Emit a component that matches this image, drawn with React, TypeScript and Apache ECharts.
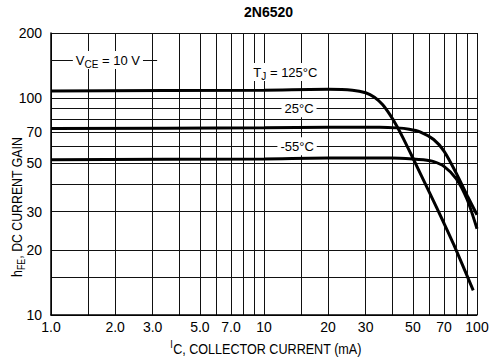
import React, { useEffect, useRef } from 'react';
import * as echarts from 'echarts';

const FONT = "'Liberation Sans Narrow', 'Liberation Sans', Arial, sans-serif";

// Axis grid / label values
const xGridValues = [1, 1.5, 2, 3, 4, 5, 6, 7, 8, 9, 10, 15, 20, 30, 40, 50, 60, 70, 80, 90, 100];
const xLabelValues = [1, 2, 3, 5, 7, 10, 20, 30, 50, 70, 100];
const yGridValues = [10, 15, 20, 30, 40, 50, 60, 70, 80, 90, 100, 200];
const yLabelValues = [10, 20, 30, 50, 70, 100, 200];

// TJ = 125 °C
const current125 = [1, 10, 20, 26, 30, 33, 36, 39, 42, 45, 50, 60, 70, 78, 96];
const gain125 = [108, 109, 110, 109, 106, 101, 93.5, 84, 74.5, 65.5, 53, 36.5, 26.5, 21, 13];

// TJ = 25 °C
const current25 = [1, 10, 20, 35, 42, 48, 54, 62.6, 70, 80, 90, 100];
const gain25 = [72.5, 73, 73.5, 73.5, 73, 72, 70, 64.5, 57, 45, 35.5, 29];

// TJ = -55 °C
const currentM55 = [1, 10, 20, 40, 50, 56, 62.6, 70, 80, 90, 100];
const gainM55 = [52, 52.5, 53, 53, 52.5, 52, 51, 48.5, 42.5, 34, 25];

const richTitle = {
  n: { fontFamily: FONT, fontSize: 14, color: '#000', lineHeight: 19, verticalAlign: 'middle' },
  s: { fontFamily: FONT, fontSize: 10, color: '#000', lineHeight: 10, verticalAlign: 'bottom' },
  u: { fontFamily: FONT, fontSize: 10, color: '#000', lineHeight: 10, verticalAlign: 'top' },
};

const richLabel = {
  n: { fontFamily: FONT, fontSize: 13, color: '#000', lineHeight: 18, verticalAlign: 'middle' },
  s: { fontFamily: FONT, fontSize: 10, color: '#000', lineHeight: 10, verticalAlign: 'bottom' },
};

function pairs(xs: number[], ys: number[]) {
  return xs.map((x, i) => [x, ys[i]]);
}

function labelPoint(text: string, coord: number[]) {
  return {
    coord,
    symbol: 'circle',
    symbolSize: 0,
    itemStyle: { color: 'transparent' },
    label: {
      show: true,
      position: 'inside',
      formatter: text,
      backgroundColor: '#fff',
      padding: [0, 3],
      rich: richLabel,
    },
  };
}

export default function App() {
  const ref = useRef<HTMLDivElement>(null);
  useEffect(() => {
    const chart = echarts.init(ref.current!, null, { renderer: 'svg' });
    const lineStyle = { color: '#000', width: 3 };
    const curve = {
      type: 'line',
      showSymbol: false,
      smooth: 0.25,
      lineStyle,
      silent: true,
      z: 5,
    };
    const option: any = {
      animation: false,
      backgroundColor: '#fff',
      title: {
        text: '2N6520',
        left: 244,
        top: 5,
        padding: 0,
        textStyle: { fontFamily: "'Liberation Sans', Arial, sans-serif", fontSize: 14, fontWeight: 'bold', color: '#000' },
      },
      grid: { left: 51, top: 33, right: 19, bottom: 46, containLabel: false },
      xAxis: {
        type: 'log',
        logBase: 10,
        min: 1,
        max: 100,
        axisLine: { show: true, onZero: false, lineStyle: { color: '#000', width: 1.5 } },
        axisTick: { show: false, customValues: xGridValues },
        minorTick: { show: false },
        splitLine: { show: true, lineStyle: { color: '#111', width: 1 } },
        axisLabel: {
          customValues: xLabelValues,
          formatter: (v: number) => (v < 10 ? v.toFixed(1) : String(v)),
          fontFamily: FONT,
          fontSize: 14,
          color: '#000',
          margin: 5,
        },
      },
      yAxis: {
        type: 'log',
        logBase: 10,
        min: 10,
        max: 200,
        axisLine: { show: true, onZero: false, lineStyle: { color: '#000', width: 1.5 } },
        axisTick: { show: false, customValues: yGridValues },
        minorTick: { show: false },
        splitLine: { show: true, lineStyle: { color: '#111', width: 1 } },
        axisLabel: {
          customValues: yLabelValues,
          formatter: (v: number) => String(v),
          fontFamily: FONT,
          fontSize: 14,
          color: '#000',
          margin: 9,
        },
      },
      graphic: [
        {
          type: 'text',
          x: 17,
          y: 207,
          rotation: Math.PI / 2,
          scaleX: 0.88,
          style: {
            text: '{n|h}{s|FE}{n|, DC CURRENT GAIN}',
            rich: richTitle,
            align: 'center',
            verticalAlign: 'middle',
          },
        },
        {
          type: 'text',
          x: 266,
          y: 349,
          scaleX: 0.9,
          style: {
            text: '{u|I}{n|C, COLLECTOR CURRENT (mA)}',
            rich: richTitle,
            align: 'center',
            verticalAlign: 'middle',
          },
        },
      ],
      series: [
        {
          ...curve,
          name: 'TJ = 125°C',
          data: pairs(current125, gain125),
          markPoint: {
            silent: true,
            data: [
              labelPoint('{n|T}{s|J}{n| = 125°C}', [12.6, 132]),
              labelPoint('{n|V}{s|CE}{n| = 10 V}', [1.85, 150]),
            ],
          },
          markLine: {
            silent: true,
            symbol: 'none',
            z: 1,
            lineStyle: { color: '#111', width: 1, type: 'solid' },
            label: { show: false },
            data: [[{ coord: [1, 150] }, { coord: [3.15, 150] }]],
          },
        },
        {
          ...curve,
          name: 'TJ = 25°C',
          data: pairs(current25, gain25),
          markPoint: {
            silent: true,
            data: [labelPoint('{n|25°C}', [14.6, 90])],
          },
        },
        {
          ...curve,
          name: 'TJ = -55°C',
          data: pairs(currentM55, gainM55),
          markPoint: {
            silent: true,
            data: [labelPoint('{n|-55°C}', [14.3, 60])],
          },
        },
      ],
    };
    chart.setOption(option);
    return () => chart.dispose();
  }, []);
  return (
    <div
      ref={ref}
      style={{ position: 'fixed', left: 0, top: 0, width: 496, height: 361, background: '#fff' }}
    />
  );
}
